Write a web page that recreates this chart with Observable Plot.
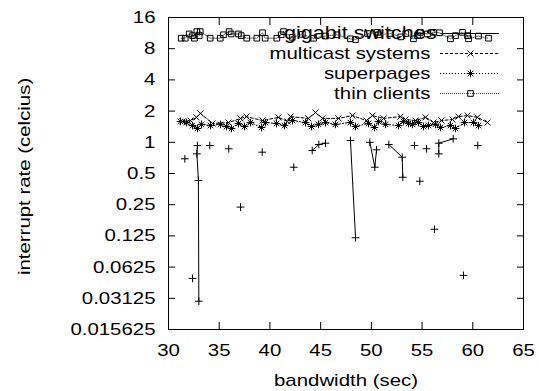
<!DOCTYPE html>
<html><head><meta charset="utf-8">
<script src="https://cdn.jsdelivr.net/npm/d3@7"></script>
<script src="https://cdn.jsdelivr.net/npm/@observablehq/plot@0.6"></script>
<style>html,body{margin:0;padding:0;background:#fff;} svg{display:block;}</style>
</head><body><div id="chart"></div>
<script>
// ---- tick values and labels
const xTicks = [30, 35, 40, 45, 50, 55, 60, 65];
const yTicks = [0.015625, 0.03125, 0.0625, 0.125, 0.25, 0.5, 1, 2, 4, 8, 16];
const yTickLabels = ["0.015625", "0.03125", "0.0625", "0.125", "0.25", "0.5", "1", "2", "4", "8", "16"];
const seriesNames = ["gigabit switches", "multicast systems", "superpages", "thin clients"];
const xLabel = "bandwidth (sec)";
const yLabel = "interrupt rate (celcius)";

// ---- gigabit switches (solid line, + points; segments break the line)
const gigX = [31.61, 32.37, 32.85, 32.80, 32.95, 32.99, 34.07, 35.94, 37.10, 39.24, 42.35,
  44.17, 44.82, 45.48, 47.94, 48.44, 49.85, 50.34, 50.51, 51.72, 53.04, 53.10,
  54.25, 54.78, 55.44, 56.22, 56.65, 56.65, 58.07, 59.08, 60.49];
const gigY = [0.693, 0.0486, 0.931, 0.774, 0.428, 0.0293, 0.931, 0.866, 0.237, 0.803, 0.575,
  0.833, 0.952, 0.980, 1.04, 0.120, 1.00, 0.575, 0.846, 0.952, 0.718, 0.460,
  0.931, 0.421, 0.866, 0.145, 0.774, 0.980, 1.08, 0.052, 0.931];
const gigSeg = [0, 1, 2, 2, 2, 2, 3, 4, 5, 6, 7,
  8, 8, 8, 9, 9, 10, 10, 10, 11, 11, 11,
  12, 13, 14, 15, 16, 16, 16, 17, 18];

// ---- multicast systems (dashed, x points)
const mcX = [31.38, 32.17, 32.76, 33.15, 34.34, 35.92, 37.10, 37.69, 39.27, 40.84, 41.73, 42.03,
  43.80, 44.49, 45.18, 46.76, 48.14, 49.52, 50.11, 51.20, 52.87, 53.37, 54.35, 55.34,
  56.13, 56.92, 58.00, 58.59, 59.48, 60.46, 61.45];
const mcY = [1.59, 1.62, 1.74, 1.90, 1.52, 1.55, 1.70, 1.77, 1.62, 1.74, 1.59, 1.77,
  1.70, 1.94, 1.70, 1.70, 1.81, 1.62, 1.81, 1.70, 1.77, 1.66, 1.62, 1.74,
  1.55, 1.62, 1.66, 1.77, 1.81, 1.74, 1.55];

// ---- superpages (dotted, * points)
const spX = [31.18, 31.77, 32.37, 32.86, 33.25, 34.14, 35.13, 35.72, 36.21, 36.90, 37.49, 38.08,
  39.17, 39.56, 40.65, 41.44, 42.23, 43.51, 44.10, 44.79, 45.48, 46.46, 47.94, 48.44,
  49.72, 50.31, 50.70, 51.39, 52.68, 53.17, 53.66, 54.06, 54.65, 55.14, 55.63, 56.32,
  56.82, 57.80, 58.30, 59.18, 60.07, 60.56];
const spY = [1.59, 1.55, 1.45, 1.36, 1.49, 1.45, 1.49, 1.42, 1.36, 1.52, 1.42, 1.55,
  1.39, 1.55, 1.52, 1.45, 1.62, 1.55, 1.42, 1.49, 1.55, 1.49, 1.55, 1.42,
  1.52, 1.39, 1.59, 1.49, 1.45, 1.59, 1.52, 1.49, 1.55, 1.42, 1.45, 1.49,
  1.39, 1.45, 1.36, 1.55, 1.55, 1.45];

// ---- thin clients (fine dotted, square points)
const tcX = [31.25, 31.65, 32.04, 32.37, 32.56, 32.79, 33.03, 33.13, 34.11, 35.10, 35.42, 35.98,
  36.18, 36.90, 37.17, 37.72, 38.71, 39.27, 39.53, 40.68, 41.11, 41.34, 42.2, 43.2,
  44.3, 45.48, 46.6, 47.94, 48.44, 49.62, 50.6, 50.7, 51.9, 52.9, 53.4, 54.15,
  54.55, 54.84, 55.53, 56.13, 56.72, 57.80, 58.30, 58.99, 59.48, 59.58, 60.56, 61.55];
const tcY = [10.1, 10.1, 11.1, 10.7, 10.1, 11.7, 10.7, 11.7, 10.1, 10.1, 10.9, 11.7,
  11.1, 11.1, 10.7, 10.1, 10.1, 11.4, 10.1, 10.1, 10.9, 11.7, 10.3, 11.0,
  10.1, 10.6, 10.9, 9.97, 9.8, 11.2, 11.5, 10.9, 11.2, 10.4, 11.2, 9.97,
  10.7, 11.5, 11.1, 11.5, 11.4, 9.97, 10.7, 11.5, 10.7, 9.97, 10.6, 10.1];

const gig = gigX.map((x, i) => ({x, y: gigY[i], seg: gigSeg[i]}));
const mc = mcX.map((x, i) => ({x, y: mcY[i]}));
const sp = spX.map((x, i) => ({x, y: spY[i]}));
const tc = tcX.map((x, i) => ({x, y: tcY[i]}));

const FS = 17;
const yTop = yTicks[yTicks.length - 1];
const row = i => 16 + i * 20;
const legendLine = (i, dash, stroke) => Plot.ruleY([yTop], {dy: row(i), insetLeft: 272, insetRight: 24, stroke, strokeWidth: 1, strokeDasharray: dash});
const legendDot = (i, symbol, r) => Plot.dot([0], {frameAnchor: "top-right", dx: -53, dy: row(i), symbol, r, stroke: "black", strokeWidth: 1, fill: "none"});

const chart = Plot.plot({
  width: 539, height: 391,
  marginLeft: 168, marginRight: 16, marginTop: 17, marginBottom: 62,
  style: {background: "white", fontFamily: "'Liberation Sans', Arial, sans-serif", fontSize: FS + "px", color: "black"},
  x: {domain: [30, 65], label: null},
  y: {type: "log", base: 2, domain: [0.015625, 16], label: null},
  marks: [
    Plot.axisX({anchor: "bottom", ticks: xTicks, tickSize: -7, tickFormat: () => "", label: null}),
    Plot.axisX({anchor: "top", ticks: xTicks, tickSize: -7, tickFormat: () => "", label: null}),
    Plot.axisY({anchor: "left", ticks: yTicks, tickSize: -7, tickFormat: () => "", label: null}),
    Plot.axisY({anchor: "right", ticks: yTicks, tickSize: -7, tickFormat: () => "", label: null}),
    Plot.axisX({anchor: "bottom", ticks: xTicks, tickSize: 0, tickPadding: 14, tickFormat: d => String(d), label: null, fontSize: FS}),
    Plot.axisY({anchor: "left", ticks: yTicks, tickSize: 0, tickPadding: 13, tickFormat: d => yTickLabels[yTicks.indexOf(d)], label: null, fontSize: FS}),
    Plot.frame({stroke: "black", strokeWidth: 1}),
    Plot.text([xLabel], {frameAnchor: "bottom", lineAnchor: "middle", text: d => d, dy: 50.6, fontSize: FS, fill: "black"}),
    Plot.text([yLabel], {frameAnchor: "left", lineAnchor: "middle", text: d => d, rotate: -90, dx: -144, dy: 3, fontSize: FS, fill: "black"}),
    ...seriesNames.map((name, i) => Plot.text([name], {frameAnchor: "top-right", lineAnchor: "middle", text: d => d, textAnchor: "end",
      dx: i === 0 ? -87 : -93, dy: row(i), fontSize: i === 0 ? 18 : FS, fill: "black"})),
    // gigabit switches
    legendLine(0, null, "black"),
    legendDot(0, "plus", 2.6),
    Plot.line(gig, {x: "x", y: "y", z: "seg", stroke: "black", strokeWidth: 1}),
    Plot.dot(gig, {x: "x", y: "y", symbol: "plus", r: 2.6, stroke: "black", strokeWidth: 1}),
    // multicast systems
    legendLine(1, "3,2", "black"),
    legendDot(1, "times", 2.8),
    Plot.line(mc, {x: "x", y: "y", stroke: "black", strokeWidth: 1, strokeDasharray: "3,2"}),
    Plot.dot(mc, {x: "x", y: "y", symbol: "times", r: 2.8, stroke: "black", strokeWidth: 1}),
    // superpages
    legendLine(2, "1,2", "black"),
    legendDot(2, "plus", 2.6),
    legendDot(2, "times", 2.6),
    Plot.line(sp, {x: "x", y: "y", stroke: "black", strokeWidth: 1, strokeDasharray: "1,2"}),
    Plot.dot(sp, {x: "x", y: "y", symbol: "plus", r: 2.6, stroke: "black", strokeWidth: 1}),
    Plot.dot(sp, {x: "x", y: "y", symbol: "times", r: 2.6, stroke: "black", strokeWidth: 1}),
    // thin clients
    legendLine(3, "1,1", "#555"),
    legendDot(3, "square2", 3.6),
    Plot.line(tc, {x: "x", y: "y", stroke: "#555", strokeWidth: 1, strokeDasharray: "1,1"}),
    Plot.dot(tc, {x: "x", y: "y", symbol: "square2", r: 3.6, stroke: "black", strokeWidth: 1, fill: "none"})
  ]
});
document.getElementById("chart").appendChild(chart);
// widen glyphs to match the reference's wide sans rendering
chart.querySelectorAll("text").forEach(t => {
  if (!t.textContent) return;
  const w = t.getComputedTextLength();
  if (!(w > 0)) return;
  const L = w * 1.2;
  t.setAttribute("textLength", L.toFixed(1));
  t.setAttribute("lengthAdjust", "spacingAndGlyphs");
  const tr = t.getAttribute("transform") || "";
  if (tr.includes("rotate")) {
    t.setAttribute("text-anchor", "start");
    t.style.textAnchor = "start";
    t.setAttribute("x", (-L / 2).toFixed(1));
  }
});
</script>
</body></html>
